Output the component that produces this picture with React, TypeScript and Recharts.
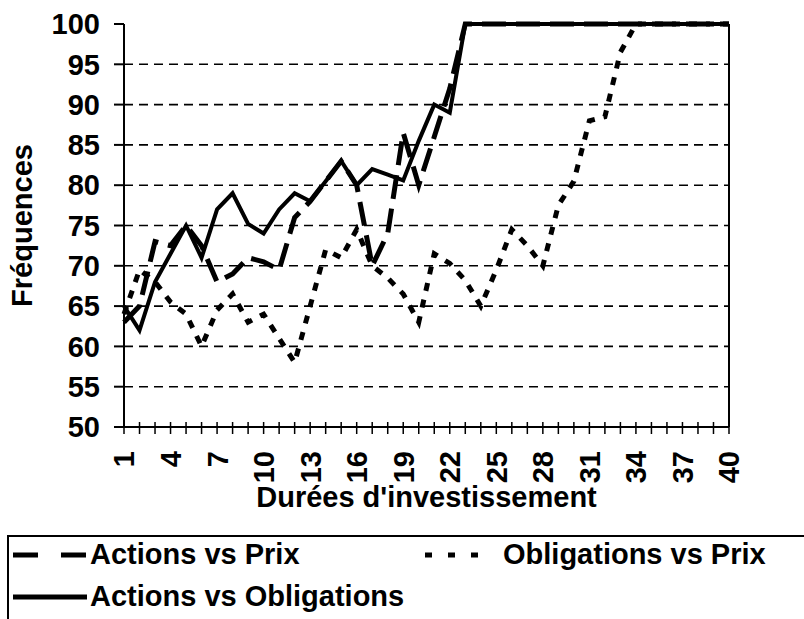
import { LineChart, Line, XAxis, YAxis, CartesianGrid } from "recharts"

const durations = [
  1, 2, 3, 4, 5, 6, 7, 8, 9, 10, 11, 12, 13, 14, 15, 16, 17, 18, 19, 20,
  21, 22, 23, 24, 25, 26, 27, 28, 29, 30, 31, 32, 33, 34, 35, 36, 37, 38, 39, 40,
]
const labeledDurations = [1, 4, 7, 10, 13, 16, 19, 22, 25, 28, 31, 34, 37, 40]
const freqTicks = [50, 55, 60, 65, 70, 75, 80, 85, 90, 95, 100]
const gridValues = [55, 60, 65, 70, 75, 80, 85, 90, 95]

const actionsVsPrix = [
  63, 65, 73, 72.5, 75, 72.5, 68, 69, 71, 70.5,
  69.5, 76, 78, 80.5, 83, 80, 70, 74, 86.5, 80,
  86, 92, 100, 100, 100, 100, 100, 100, 100, 100,
  100, 100, 100, 100, 100, 100, 100, 100, 100, 100,
]
const obligationsVsPrix = [
  64, 69.5, 68, 65.5, 64, 60, 64.5, 66.5, 63, 64,
  61, 58, 65, 72, 71, 74.5, 70, 68.5, 66.5, 63,
  71.5, 70.3, 68.2, 65, 69.5, 74.5, 72.5, 70, 77.5, 80.5,
  88, 88.5, 96.5, 100, 100, 100, 100, 100, 100, 100,
]
const actionsVsObligations = [
  65, 62, 68, 71.5, 75, 71, 77, 79, 75.2, 74,
  77, 79, 78, 80.5, 83, 80, 82, 81.3, 80.6, 85.5,
  90, 89, 100, 100, 100, 100, 100, 100, 100, 100,
  100, 100, 100, 100, 100, 100, 100, 100, 100, 100,
]

const data = durations.map((d, i) => ({
  duree: d,
  actionsPrix: actionsVsPrix[i],
  obligationsPrix: obligationsVsPrix[i],
  actionsObligations: actionsVsObligations[i],
}))

const FONT = "'Liberation Sans', Arial, Helvetica, sans-serif"
const FS = 29

const XTick = (props: any) => {
  const { x, y, payload } = props
  const show = labeledDurations.includes(payload.value)
  return (
    <g transform={`translate(${x},${y})`}>
      <line x1={0} x2={0} y1={-5} y2={7} stroke="#000" strokeWidth={1.5} />
      {show && (
        <text
          transform="rotate(-90)"
          x={-24}
          y={0}
          dy="0.36em"
          textAnchor="end"
          fill="#000"
          fontSize={FS}
          fontWeight={700}
          fontFamily={FONT}
        >
          {payload.value}
        </text>
      )}
    </g>
  )
}

const yTickStyle = { fill: "#000", fontSize: FS, fontWeight: 700, fontFamily: FONT }

export default function App() {
  return (
    <div style={{ position: "absolute", left: 0, top: 0, width: 804, height: 619, background: "#fff" }}>
      <LineChart width={804} height={530} data={data} margin={{ top: 24, right: 0, bottom: 18, left: 0 }}>
        <CartesianGrid
          yAxisId="left"
          vertical={false}
          horizontalValues={gridValues}
          stroke="#000"
          strokeWidth={1.6}
          strokeDasharray="9 6"
        />
        <XAxis
          dataKey="duree"
          type="number"
          domain={[1, 40]}
          ticks={durations}
          interval={0}
          height={85}
          tickSize={0}
          tickMargin={0}
          tickLine={false}
          tick={<XTick />}
          axisLine={{ stroke: "#000", strokeWidth: 2 }}
          label={{
            value: "Durées d'investissement",
            position: "insideBottom",
            offset: 5,
            fill: "#000",
            fontSize: FS,
            fontWeight: 700,
            fontFamily: FONT,
          }}
        />
        <YAxis
          yAxisId="left"
          domain={[50, 100]}
          ticks={freqTicks}
          interval={0}
          width={124}
          tickSize={10}
          tickMargin={14}
          tick={yTickStyle}
          tickLine={{ stroke: "#000", strokeWidth: 2 }}
          axisLine={{ stroke: "#000", strokeWidth: 2 }}
          label={{
            value: "Fréquences",
            angle: -90,
            position: "center",
            dx: -40,
            fill: "#000",
            fontSize: FS,
            fontWeight: 700,
            fontFamily: FONT,
          }}
        />
        <YAxis
          yAxisId="right"
          orientation="right"
          domain={[50, 100]}
          ticks={freqTicks}
          interval={0}
          width={75}
          tickSize={10}
          tickMargin={14}
          tick={yTickStyle}
          tickLine={{ stroke: "#000", strokeWidth: 2 }}
          axisLine={{ stroke: "#000", strokeWidth: 2 }}
        />
        <Line
          yAxisId="left"
          type="linear"
          dataKey="actionsPrix"
          stroke="#000"
          strokeWidth={5}
          strokeDasharray="24 10"
          dot={false}
          isAnimationActive={false}
        />
        <Line
          yAxisId="left"
          type="linear"
          dataKey="obligationsPrix"
          stroke="#000"
          strokeWidth={5}
          strokeDasharray="8 9"
          dot={false}
          isAnimationActive={false}
        />
        <Line
          yAxisId="left"
          type="linear"
          dataKey="actionsObligations"
          stroke="#000"
          strokeWidth={4}
          dot={false}
          isAnimationActive={false}
        />
      </LineChart>
      <svg width={804} height={84} style={{ position: "absolute", left: 0, top: 535 }}>
        <path d="M8,84 V1 H804" fill="none" stroke="#000" strokeWidth={2} />
        <line x1={13} x2={87} y1={20} y2={20} stroke="#000" strokeWidth={5} strokeDasharray="25 23" />
        <text x={90} y={29} fontSize={FS} fontWeight={700} fontFamily={FONT} fill="#000">Actions vs Prix</text>
        <line x1={425} x2={479} y1={20} y2={20} stroke="#000" strokeWidth={5} strokeDasharray="7 16" />
        <text x={503} y={29} fontSize={FS} fontWeight={700} fontFamily={FONT} fill="#000">Obligations vs Prix</text>
        <line x1={13} x2={87} y1={62} y2={62} stroke="#000" strokeWidth={5} />
        <text x={90} y={71} fontSize={FS} fontWeight={700} fontFamily={FONT} fill="#000">Actions vs Obligations</text>
      </svg>
    </div>
  )
}
